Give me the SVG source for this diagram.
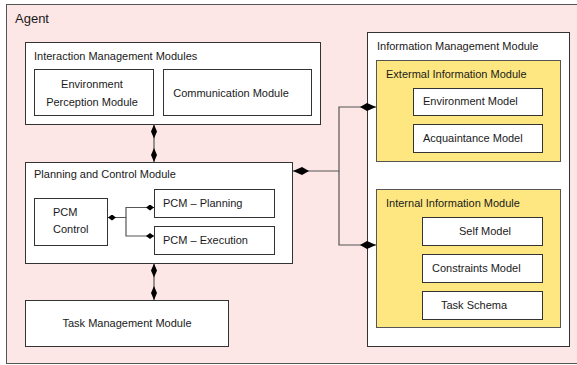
<svg xmlns="http://www.w3.org/2000/svg" width="577" height="365" viewBox="0 0 577 365">
<defs>
<style>
.box{fill:#ffffff;stroke:#333333;stroke-width:1}
.ybox{fill:#fee781;stroke:#555555;stroke-width:1}
.t{font-family:"Liberation Sans",Arial,Helvetica,sans-serif;font-size:11px;fill:#1a1a1a}
.c{text-anchor:middle}
.ln{fill:none;stroke:#555555;stroke-width:1.2}
</style>
<marker id="dv" viewBox="0 0 14 6" markerWidth="14" markerHeight="6" refX="14" refY="3" orient="auto-start-reverse" markerUnits="userSpaceOnUse"><path d="M0,3 L7,0 L14,3 L7,6 Z" fill="#000"/></marker>
<marker id="dl" viewBox="0 0 16 8" markerWidth="16" markerHeight="8" refX="16" refY="4" orient="auto-start-reverse" markerUnits="userSpaceOnUse"><path d="M0,4 L7,0 L16,4 L7,8 Z" fill="#000"/></marker>
<marker id="ds" viewBox="0 0 8 6" markerWidth="8" markerHeight="6" refX="8" refY="3" orient="auto-start-reverse" markerUnits="userSpaceOnUse"><path d="M0,3 L4,0 L8,3 L4,6 Z" fill="#000"/></marker>
</defs>
<rect x="0" y="0" width="577" height="365" fill="#ffffff"/>
<g id="agent">
<rect x="6.5" y="4.5" width="580" height="359" fill="#fde7e6" stroke="#555555" stroke-width="1"/>
<text class="t" x="15" y="23" style="font-size:13px">Agent</text>
</g>
<g id="interaction-management">
<rect class="box" x="25.5" y="42.5" width="295" height="82"/>
<text class="t" x="34" y="60">Interaction Management Modules</text>
</g>
<g id="environment-perception">
<rect class="box" x="34.5" y="69.5" width="119" height="46"/>
<text class="t c" x="92" y="88">Environment</text>
<text class="t c" x="92" y="106">Perception Module</text>
</g>
<g id="communication">
<rect class="box" x="163.5" y="69.5" width="148" height="46"/>
<text class="t c" x="231" y="97">Communication Module</text>
</g>
<g id="planning-control">
<rect class="box" x="25.5" y="162.5" width="267" height="101"/>
<text class="t" x="34" y="178">Planning and Control Module</text>
</g>
<g id="pcm-control">
<rect class="box" x="34.5" y="198.5" width="73" height="47"/>
<text class="t" x="53" y="216">PCM</text>
<text class="t" x="53" y="233">Control</text>
</g>
<g id="pcm-planning">
<rect class="box" x="154.5" y="189.5" width="120" height="28"/>
<text class="t" x="163" y="207">PCM – Planning</text>
</g>
<g id="pcm-execution">
<rect class="box" x="154.5" y="226.5" width="120" height="28"/>
<text class="t" x="163" y="244">PCM – Execution</text>
</g>
<g id="task-management">
<rect class="box" x="25.5" y="300.5" width="203" height="46"/>
<text class="t c" x="127" y="327">Task Management Module</text>
</g>
<g id="information-management">
<rect class="box" x="367.5" y="32.5" width="202" height="314"/>
<text class="t" x="377" y="50">Information Management Module</text>
</g>
<g id="external-information">
<rect class="ybox" x="376.5" y="60.5" width="184" height="101"/>
<text class="t" x="386" y="78">Extermal Information Module</text>
</g>
<g id="environment-model">
<rect class="box" x="413.5" y="88.5" width="129" height="27"/>
<text class="t" x="423" y="105">Environment Model</text>
</g>
<g id="acquaintance-model">
<rect class="box" x="413.5" y="124.5" width="129" height="28"/>
<text class="t" x="423" y="142">Acquaintance Model</text>
</g>
<g id="internal-information">
<rect class="ybox" x="376.5" y="189.5" width="184" height="138"/>
<text class="t" x="386" y="207">Internal Information Module</text>
</g>
<g id="self-model">
<rect class="box" x="422.5" y="217.5" width="120" height="28"/>
<text class="t" x="459" y="235">Self Model</text>
</g>
<g id="constraints-model">
<rect class="box" x="422.5" y="254.5" width="120" height="28"/>
<text class="t" x="432" y="272">Constraints Model</text>
</g>
<g id="task-schema">
<rect class="box" x="422.5" y="291.5" width="120" height="28"/>
<text class="t" x="441" y="309">Task Schema</text>
</g>
<g id="connectors">
<path class="ln" d="M154,124.5 V162" marker-start="url(#dv)" marker-end="url(#dv)"/>
<path class="ln" d="M154,263.5 V300" marker-start="url(#dv)" marker-end="url(#dv)"/>
<path class="ln" d="M293,171 H339 V107 H376" marker-start="url(#dl)" marker-end="url(#dl)"/>
<path class="ln" d="M339,171 V245 H376" marker-end="url(#dl)"/>
<path class="ln" d="M108,217.5 H126 V207.5 H154" marker-start="url(#ds)" marker-end="url(#ds)"/>
<path class="ln" d="M126,217.5 V236 H154" marker-end="url(#ds)"/>
</g>
</svg>
